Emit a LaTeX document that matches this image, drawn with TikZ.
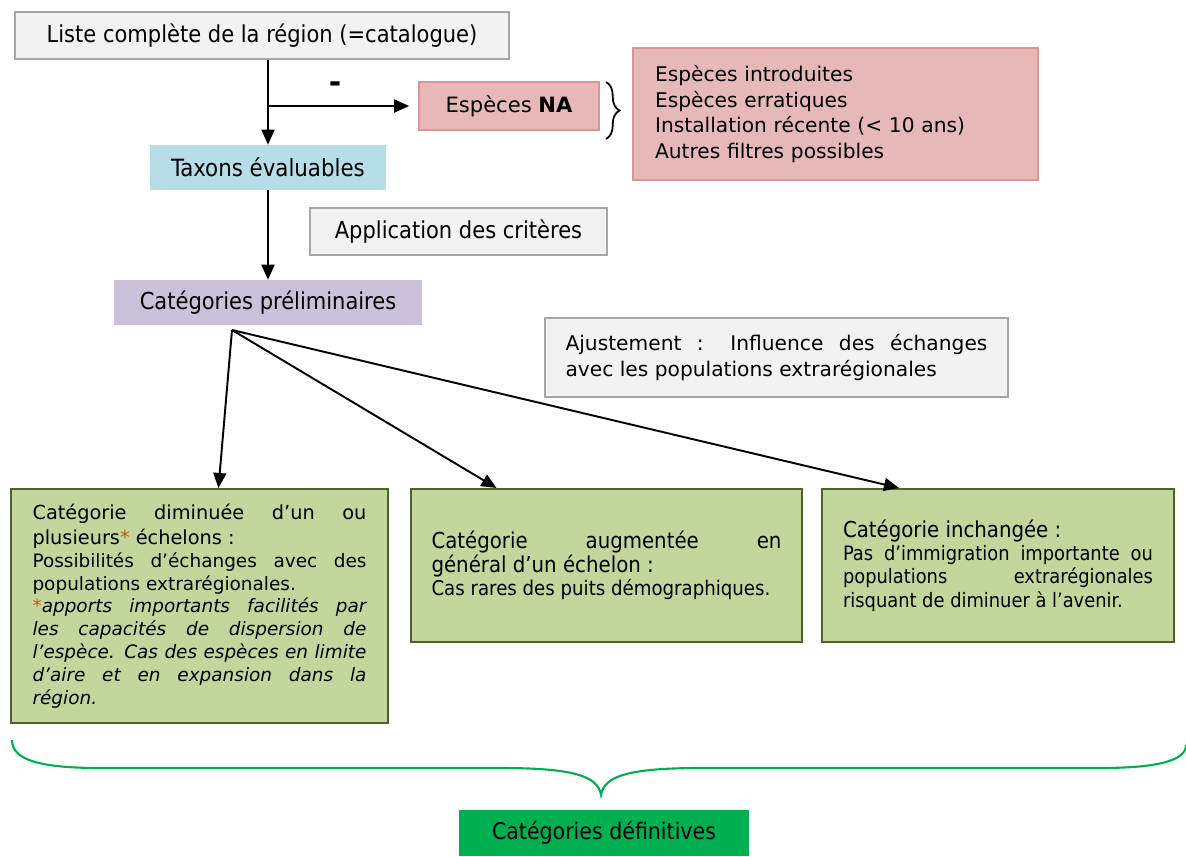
\documentclass[tikz,border=0pt]{standalone}
\usepackage{fontspec}
\setmainfont{DejaVu Sans}
\newfontfamily\condfont{DejaVu Sans Condensed}
\usetikzlibrary{arrows.meta,calc,decorations.pathreplacing}
\hyphenpenalty=10000
\exhyphenpenalty=10000
\definecolor{boxgray}{HTML}{F2F2F2}
\definecolor{linegray}{HTML}{A6A6A6}
\definecolor{nafill}{HTML}{E6B9B8}
\definecolor{naline}{HTML}{D99694}
\definecolor{taxblue}{HTML}{B7DEE8}
\definecolor{prelimpurple}{HTML}{CCC1DA}
\definecolor{catgreen}{HTML}{C3D69B}
\definecolor{catline}{HTML}{4F6228}
\definecolor{defgreen}{HTML}{00B050}
\definecolor{starbrown}{HTML}{C55A11}
\begin{document}
\begin{tikzpicture}[x=0.02cm,y=-0.02cm,
  box/.style={draw=linegray,fill=boxgray,line width=1pt,inner sep=0pt},
  nabox/.style={draw=naline,fill=nafill,line width=1pt,inner sep=0pt},
  flat/.style={inner sep=0pt},
  gbox/.style={draw=catline,fill=catgreen,line width=1.2pt,inner sep=0pt},
  cond/.style={font=\condfont\fontsize{13.3}{15}\selectfont},
  arrow/.style={line width=1.1pt,-{Triangle[length=0.3cm,width=0.26cm]}}]
% Fix the page size
\useasboundingbox (0,0) rectangle (1186,856);
% Top of the chart
\node[box,cond,minimum width=9.88cm,minimum height=0.94cm] (liste) at (262,35.5) {Liste complète de la région (=catalogue)};
\node[nabox,minimum width=3.6cm,minimum height=0.96cm,font=\fontsize{12}{14}\selectfont] (na) at (509,106) {Espèces \textbf{NA}};
\node[nabox,minimum width=8.1cm,minimum height=2.64cm,text width=7.22cm,align=left,font=\fontsize{11.5}{14.7}\selectfont] (filtres) at (835.5,114) {Espèces introduites\\Espèces erratiques\\Installation récente (< 10 ans)\\Autres filtres possibles};
\node[flat,fill=taxblue,minimum width=4.72cm,minimum height=0.9cm,font=\condfont\fontsize{13.5}{15}\selectfont] (taxons) at (268,167.5) {Taxons évaluables};
\node[box,cond,minimum width=5.94cm,minimum height=0.94cm] (appli) at (458.5,231.5) {Application des critères};
\node[flat,fill=prelimpurple,cond,minimum width=6.16cm,minimum height=0.9cm] (prelim) at (268,302.5) {Catégories préliminaires};
\node[box,minimum width=9.26cm,minimum height=1.58cm,text width=8.44cm,align=justify,font=\fontsize{11.5}{14.7}\selectfont] (ajust) at (776.5,357.5) {Ajustement : Influence des échanges\linebreak avec les populations extrarégionales};
% The three adjusted categories
\node[gbox,minimum width=7.54cm,minimum height=4.68cm,text width=6.68cm,align=justify] (dim) at (199.5,606) {%
{\fontsize{11}{14.2}\selectfont Catégorie diminuée d’un ou\linebreak plusieurs{\color{starbrown}*} échelons :\par}%
{\fontsize{10.5}{13}\selectfont Possibilités d’échanges avec des\linebreak populations extrarégionales.\par
\itshape{\color{starbrown}*}apports importants facilités par\linebreak les capacités de dispersion de\linebreak l’espèce. Cas des espèces en limite\linebreak d’aire et en expansion dans la\linebreak région.\par}};
\node[gbox,minimum width=7.82cm,minimum height=3.06cm,text width=7cm,align=justify,font=\condfont] (aug) at (606.5,565.5) {%
{\fontsize{12.5}{13.6}\selectfont Catégorie augmentée en\linebreak général d’un échelon :\par}%
{\fontsize{11.5}{13.4}\selectfont Cas rares des puits démographiques.\par}};
\node[gbox,minimum width=7.04cm,minimum height=3.06cm,text width=6.2cm,align=justify,font=\condfont] (inch) at (998,565.5) {%
{\fontsize{12.5}{13.6}\selectfont Catégorie inchangée :\par}%
{\fontsize{11.3}{13.2}\selectfont Pas d’immigration importante ou\linebreak populations extrarégionales\linebreak risquant de diminuer à l’avenir.\par}};
\node[flat,fill=defgreen,minimum width=5.8cm,minimum height=0.92cm,font=\condfont\fontsize{13}{15}\selectfont] (defin) at (604,833) {Catégories définitives};
% Arrows
\coordinate (branch) at (268,106);
\coordinate (fan) at (232,330);
\draw[arrow] (taxons.north |- liste.south) -- (taxons.north);
\draw[arrow,shorten >=0.18cm] (branch) -- (na.west);
\node[font=\fontsize{17}{17}\selectfont\bfseries] (minus) at (335,87) {-};
\draw[arrow] (taxons.south) -- (prelim.north);
\draw[arrow] (fan) -- ($(dim.north west)!0.55!(dim.north east)$);
\draw[arrow] (fan) -- ($(aug.north west)!0.22!(aug.north east)$);
\draw[arrow] (fan) -- ($(inch.north west)!0.22!(inch.north east)$);
% Braces
\draw[line width=1pt,decorate,decoration={brace,amplitude=0.27cm}] (606,82) -- (606,139);
\draw[defgreen,line width=1.2pt] (12,740) .. controls (12,760) and (40,768) .. (100,768) -- (500,768)
  .. controls (570,768) and (598,775) .. (601,795) .. controls (604,775) and (632,768) .. (702,768)
  -- (1100,768) .. controls (1160,768) and (1186,760) .. (1186,745);
\end{tikzpicture}
\end{document}
